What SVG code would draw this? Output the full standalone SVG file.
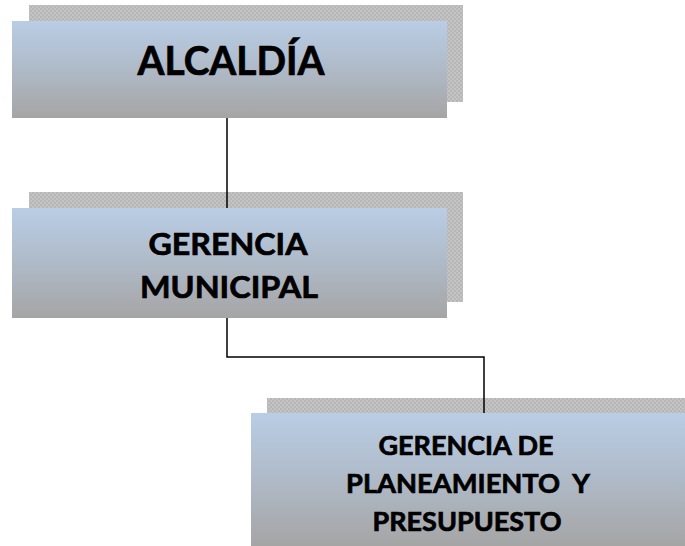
<svg xmlns="http://www.w3.org/2000/svg" width="685" height="546" viewBox="0 0 685 546">
  <defs>
    <linearGradient id="boxGrad" x1="0" y1="0" x2="0" y2="1">
      <stop offset="0" stop-color="#B9CDE5"/>
      <stop offset="0.45" stop-color="#B0BCCB"/>
      <stop offset="1" stop-color="#A5A5A5"/>
    </linearGradient>
    <pattern id="hatch" width="4" height="4" patternUnits="userSpaceOnUse">
      <rect width="4" height="4" fill="#C4C4C4"/>
      <rect width="2" height="2" fill="#B6B6B6"/>
      <rect x="2" y="2" width="2" height="2" fill="#B6B6B6"/>
    </pattern>
  </defs>
  <style>
    .shadow { fill: url(#hatch); }
    .box { fill: url(#boxGrad); }
    .lbl { font-family: Lato, "Liberation Sans", sans-serif; font-weight: 700; fill: #000; stroke: #000; stroke-width: 0.7; text-anchor: middle; }
    .conn { stroke: #000; stroke-width: 1.5; fill: none; }
  </style>
  <rect width="685" height="546" fill="#FFFFFF"/>

  <g id="node-alcaldia">
    <rect class="shadow" x="29" y="5" width="434" height="97"/>
    <rect class="box" x="12" y="21" width="435" height="97"/>
  </g>

  <g id="node-gerencia-municipal">
    <rect class="shadow" x="29" y="192" width="434" height="110"/>
    <rect class="box" x="12" y="208" width="435" height="110"/>
  </g>

  <g id="node-gerencia-planeamiento">
    <rect class="shadow" x="267" y="398" width="418" height="30"/>
    <rect class="box" x="251" y="413" width="434" height="133"/>
  </g>

  <g id="connectors">
    <line class="conn" x1="227" y1="118" x2="227" y2="208"/>
    <polyline class="conn" points="227,318 227,357 484,357 484,413"/>
  </g>

  <g id="labels">
    <text class="lbl" x="231" y="75" font-size="41" stroke-width="1" textLength="187" lengthAdjust="spacingAndGlyphs">ALCALDÍA</text>
    <text class="lbl" x="228" y="255" font-size="31" textLength="159" lengthAdjust="spacingAndGlyphs">GERENCIA</text>
    <text class="lbl" x="229" y="298" font-size="31" textLength="178" lengthAdjust="spacingAndGlyphs">MUNICIPAL</text>
    <text class="lbl" x="466" y="455" font-size="27" textLength="175" lengthAdjust="spacingAndGlyphs">GERENCIA DE</text>
    <text class="lbl" x="468" y="493" font-size="27" textLength="244" lengthAdjust="spacingAndGlyphs" xml:space="preserve">PLANEAMIENTO  Y</text>
    <text class="lbl" x="467" y="531" font-size="27" textLength="189" lengthAdjust="spacingAndGlyphs">PRESUPUESTO</text>
  </g>
</svg>
